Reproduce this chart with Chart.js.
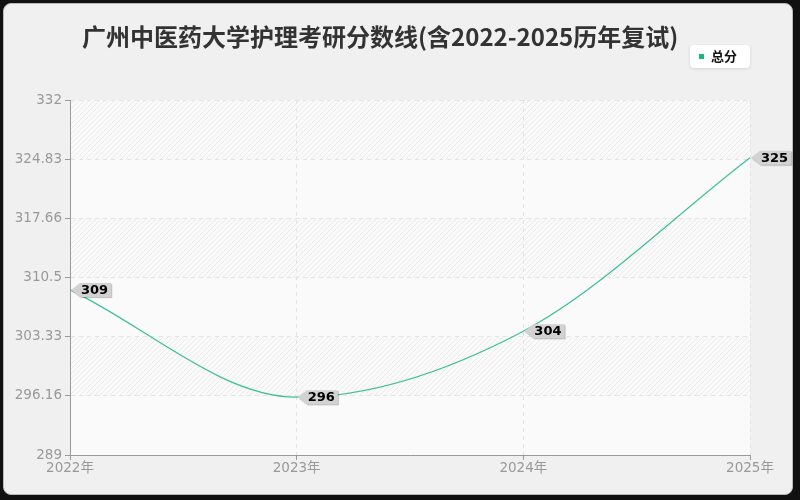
<!DOCTYPE html>
<html>
<head>
<meta charset="utf-8">
<script src="https://cdn.jsdelivr.net/npm/chart.js@4/dist/chart.umd.min.js"></script>
<style>
  html, body { margin: 0; padding: 0; background: #111; }
  #card {
    position: absolute; left: 3px; top: 3px; width: 788px; height: 490px;
    background: #f0f0f0; border: 1px solid #bbb; border-radius: 8px;
  }
  #wrap { position: absolute; left: 0; top: 0; width: 800px; height: 500px; }
</style>
</head>
<body>
<div id="card"></div>
<div id="wrap"><canvas id="chart" width="800" height="500"></canvas></div>
<script>
// Data
const years = ['2022年', '2023年', '2024年', '2025年'];
const totalScores = [309, 296, 304, 325];
const yTicks = [289, 296.16, 303.33, 310.5, 317.66, 324.83, 332];
const titleText = '广州中医药大学护理考研分数线(含2022-2025历年复试)';
const seriesName = '总分';

const lineColor = '#3dbf98';
const tickFont = { family: '"DejaVu Sans", "Noto Sans CJK SC", sans-serif', size: 13.5 };

// Hatched pattern for alternating bands
function makeHatch() {
  const c = document.createElement('canvas');
  c.width = 5; c.height = 5;
  const g = c.getContext('2d');
  g.fillStyle = '#fafafa';
  g.fillRect(0, 0, 5, 5);
  g.strokeStyle = '#ebebeb';
  g.lineWidth = 1;
  g.beginPath();
  g.moveTo(0, 5); g.lineTo(5, 0);
  g.moveTo(-1, 1); g.lineTo(1, -1);
  g.moveTo(4, 6); g.lineTo(6, 4);
  g.stroke();
  return c;
}

const bandsPlugin = {
  id: 'bands',
  beforeDraw(chart) {
    const { ctx, chartArea: a, scales } = chart;
    const y = scales.y;
    const pattern = ctx.createPattern(makeHatch(), 'repeat');
    ctx.save();
    ctx.fillStyle = '#fafafa';
    ctx.fillRect(a.left, a.top, a.right - a.left, a.bottom - a.top);
    for (let i = yTicks.length - 1; i > 0; i -= 2) {
      const top = y.getPixelForValue(yTicks[i]);
      const bot = y.getPixelForValue(yTicks[i - 1]);
      ctx.fillStyle = pattern;
      ctx.fillRect(a.left, top, a.right - a.left, bot - top);
    }
    ctx.restore();
  }
};

// Title and legend box drawn by hand
const headerPlugin = {
  id: 'header',
  afterDraw(chart) {
    const ctx = chart.ctx;
    ctx.save();
    ctx.font = 'bold 24px "Noto Sans CJK SC", sans-serif';
    ctx.fillStyle = '#333';
    ctx.textBaseline = 'middle';
    ctx.textAlign = 'left';
    ctx.fillText(titleText, 82, 37);

    // legend
    ctx.shadowColor = 'rgba(0,0,0,0.12)';
    ctx.shadowBlur = 3;
    ctx.shadowOffsetY = 1;
    ctx.fillStyle = '#fff';
    ctx.beginPath();
    ctx.roundRect(690, 45, 60, 23, 4);
    ctx.fill();
    ctx.shadowColor = 'transparent';
    ctx.fillStyle = '#1ab585';
    ctx.fillRect(699, 54, 5, 5);
    ctx.fillStyle = '#111';
    ctx.font = 'bold 13px "Noto Sans CJK SC", sans-serif';
    ctx.fillText(seriesName, 711, 56);
    ctx.restore();
  }
};

// Tag-shaped value labels
const tagPlugin = {
  id: 'tags',
  afterDatasetsDraw(chart) {
    const ctx = chart.ctx;
    const meta = chart.getDatasetMeta(0);
    ctx.save();
    ctx.font = 'bold 13px "DejaVu Sans", sans-serif';
    ctx.textBaseline = 'middle';
    meta.data.forEach((pt, i) => {
      const x = pt.x, y = pt.y;
      const text = String(totalScores[i]);
      const w = ctx.measureText(text).width + 4;
      ctx.shadowColor = 'rgba(0,0,0,0.25)';
      ctx.shadowOffsetX = 1;
      ctx.shadowOffsetY = 1;
      ctx.shadowBlur = 1;
      ctx.fillStyle = '#d2d2d2';
      ctx.beginPath();
      ctx.moveTo(x + 1, y);
      ctx.lineTo(x + 10, y - 7);
      ctx.lineTo(x + 10 + w, y - 7);
      ctx.lineTo(x + 10 + w, y + 7);
      ctx.lineTo(x + 10, y + 7);
      ctx.closePath();
      ctx.fill();
      ctx.shadowColor = 'transparent';
      ctx.fillStyle = '#000';
      ctx.fillText(text, x + 11, y + 0.5);
    });
    ctx.restore();
  }
};

new Chart(document.getElementById('chart'), {
  type: 'line',
  data: {
    labels: years,
    datasets: [{
      label: seriesName,
      data: totalScores,
      borderColor: lineColor,
      borderWidth: 1.2,
      cubicInterpolationMode: 'monotone',
      pointRadius: 0,
      fill: false,
    }],
  },
  options: {
    responsive: false,
    animation: false,
    layout: { padding: { left: 0, right: 50, top: 100, bottom: 15 } },
    plugins: {
      legend: { display: false },
      title: { display: false },
      tooltip: { enabled: false },
    },
    scales: {
      x: {
        type: 'category',
        offset: false,
        grid: {
          color: '#e4e4e4',
          drawTicks: true,
          tickLength: 5,
          tickColor: '#999',
        },
        border: { display: true, color: '#999', dash: [4, 4] },
        ticks: { color: '#999', font: tickFont, padding: 0, maxRotation: 0 },
        afterFit(scale) { scale.height = 30; },
      },
      y: {
        min: 289,
        max: 332,
        afterBuildTicks(scale) {
          scale.ticks = yTicks.map(v => ({ value: v }));
        },
        grid: {
          color: '#e4e4e4',
          tickLength: 5,
          tickColor: '#999',
        },
        border: { display: true, color: '#999', dash: [4, 4] },
        ticks: {
          color: '#999',
          font: tickFont,
          padding: 3,
          callback: (v) => String(v),
        },
        afterFit(scale) { scale.width = 70; },
      },
    },
  },
  plugins: [bandsPlugin, headerPlugin, tagPlugin],
});
</script>
</body>
</html>
